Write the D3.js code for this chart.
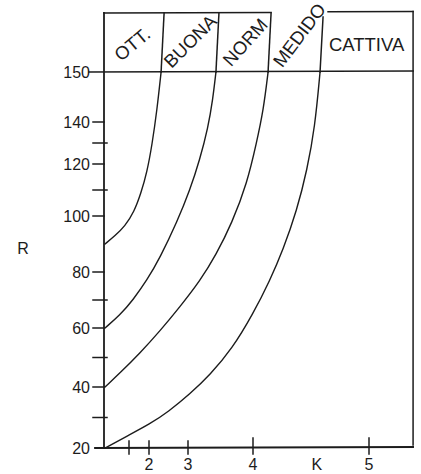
<!DOCTYPE html>
<html>
<head>
<meta charset="utf-8">
<script src="https://cdn.jsdelivr.net/npm/d3@7/dist/d3.min.js"></script>
<style>
  html, body { margin: 0; padding: 0; background: #fff; }
  svg { display: block; font-family: "Liberation Sans", Arial, Helvetica, sans-serif; }
</style>
</head>
<body>
<svg id="chart" width="421" height="474"></svg>
<script>
// ---------- data ----------
const rMajor = [20, 40, 60, 80, 100, 120, 140, 150];
const rMinor = [30, 50, 70, 110, 130];
const kMajor = [2, 3, 4, 5];
const kMinor = [1.5];
const classLabels = ["OTT.", "BUONA", "NORM", "MEDIDO", "CATTIVA"];
const yTitle = "R";
const xTitle = "K";
const kMax = 5.38;
const kTitleAt = 4.55;

// boundary curves (K, R)
const curveOttBuona = [[1, 90], [1.208, 92.9], [1.417, 96.4], [1.625, 101.5], [1.8, 108.8], [1.95, 116.9], [2.077, 129], [2.205, 142.4], [2.31, 150]];
const curveBuonaNorm = [[1, 60], [1.31, 64.6], [1.6, 70], [1.95, 77.1], [2.28, 85], [2.72, 97.9], [3.03, 110], [3.18, 121.9], [3.31, 137.6], [3.38, 144.4], [3.43, 150]];
const curveNormMedido = [[1, 40], [1.31, 44.7], [1.775, 51.5], [2.282, 59], [2.79, 67.5], [3.185, 76.8], [3.431, 86.1], [3.677, 97.5], [3.91, 112.7], [4.03, 130], [4.09, 142.4], [4.13, 150]];
const curveMedidoCattiva = [[1, 20], [1.458, 23.9], [2.026, 27.9], [2.487, 31.8], [3.03, 37.7], [3.338, 44.1], [3.677, 52.9], [4.0, 65], [4.147, 77.1], [4.259, 87.9], [4.379, 102.3], [4.466, 117.7], [4.534, 137.6], [4.578, 150]];
const curves = [curveOttBuona, curveBuonaNorm, curveNormMedido, curveMedidoCattiva];

// ---------- layout ----------
const ink = "#1c1c1c";
const svg = d3.select("#chart");
const boxTop = 13;

// the printed axes are not evenly spaced: piecewise-linear scales
const x = d3.scaleLinear()
  .domain([1, 1.5, 2, 3, 4, 5])
  .range([105, 129, 149, 188, 253, 369]);
const y = d3.scaleLinear()
  .domain(rMajor)
  .range([448, 387, 328, 272, 216, 164, 122, 72]);

const x0 = x(1), xR = x(kMax), y0 = y(20), yH = y(150);
const bounds = [1, ...curves.map(c => c[c.length - 1][0]), kMax].map(k => x(k));

const g = svg.append("g")
  .attr("stroke", ink).attr("fill", "none")
  .attr("stroke-linecap", "square");

// frame: y axis / left border, top (broken where MEDIDO pokes through), right, x axis
g.append("line").attr("x1", x0 - 1).attr("x2", x0 - 1).attr("y1", boxTop).attr("y2", y0).attr("stroke-width", 1.8);
g.append("line").attr("x1", x0 - 1).attr("x2", bounds[3] + 3).attr("y1", boxTop).attr("y2", boxTop - 0.6).attr("stroke-width", 1.5);
g.append("line").attr("x1", bounds[4] + 8).attr("x2", xR).attr("y1", boxTop - 1.2).attr("y2", boxTop - 1.4).attr("stroke-width", 1.5);
g.append("line").attr("x1", xR).attr("x2", xR).attr("y1", boxTop - 1.4).attr("y2", y0 - 3).attr("stroke-width", 1.5);
g.append("line").attr("x1", x0 - 10).attr("x2", xR).attr("y1", y0).attr("y2", y0 - 1).attr("stroke-width", 1.8);
// header line at R = 150
g.append("line").attr("x1", x0 - 16).attr("x2", xR).attr("y1", yH).attr("y2", yH - 1).attr("stroke-width", 1.6);

// y ticks
g.selectAll(".ymaj").data(rMajor.filter(d => d !== 150 && d !== 20)).join("line")
  .attr("x1", x0 - 12).attr("x2", x0 - 1)
  .attr("y1", d => y(d)).attr("y2", d => y(d)).attr("stroke-width", 1.5);
g.selectAll(".ymin").data(rMinor).join("line")
  .attr("x1", x0 - 12).attr("x2", x0 + 2)
  .attr("y1", d => y(d)).attr("y2", d => y(d)).attr("stroke-width", 1.5);

// x ticks
g.selectAll(".xmaj").data(kMajor).join("line")
  .attr("x1", d => x(d)).attr("x2", d => x(d))
  .attr("y1", d => y0 - (d >= 4 ? 10 : 7)).attr("y2", y0 + 6).attr("stroke-width", 1.5);
g.selectAll(".xmin").data(kMinor).join("line")
  .attr("x1", d => x(d)).attr("x2", d => x(d))
  .attr("y1", y0 - 7).attr("y2", y0 + 6).attr("stroke-width", 1.5);

// curves
const line = d3.line().x(d => x(d[0])).y(d => y(d[1])).curve(d3.curveBasis);
g.selectAll(".curve").data(curves).join("path")
  .attr("d", line).attr("stroke-width", 1.4);

// header dividers (continuation of each curve up to the top of the box)
g.selectAll(".div").data(curves).join("line")
  .attr("x1", d => x(d[d.length - 1][0]))
  .attr("y1", yH)
  .attr("x2", d => x(d[d.length - 1][0]) + 3)
  .attr("y2", (d, i) => i === 3 ? boxTop + 4 : boxTop)
  .attr("stroke-width", 1.5);

// ---------- text ----------
const t = svg.append("g").attr("fill", ink).attr("font-size", 16);

t.selectAll(".ylab").data(rMajor).join("text")
  .attr("x", x0 - 15).attr("y", d => y(d))
  .attr("dy", "0.36em").attr("text-anchor", "end")
  .text(d => d);

t.selectAll(".xlab").data(kMajor).join("text")
  .attr("x", d => x(d)).attr("y", y0 + 22)
  .attr("text-anchor", "middle")
  .text(d => d);

t.append("text").attr("x", x(kTitleAt)).attr("y", y0 + 22)
  .attr("text-anchor", "middle").text(xTitle);

t.append("text").attr("x", 23).attr("y", y(90) + 4)
  .attr("dy", "0.36em").attr("text-anchor", "middle").text(yTitle);

// class labels inside the header band
const angles = [-40, -45, -48, -53, 0];
const shiftX = [-1, 1.5, 3, 5, 0];
const shiftY = [44, 41, 42, 35, 44];
t.selectAll(".cls").data(classLabels).join("text")
  .attr("transform", (d, i) => {
    const cx = (bounds[i] + bounds[i + 1]) / 2 + shiftX[i];
    return `translate(${cx},${shiftY[i]}) rotate(${angles[i]})`;
  })
  .attr("text-anchor", "middle")
  .attr("dy", "0.36em")
  .attr("font-size", 18.5)
  .text(d => d);
</script>
</body>
</html>
